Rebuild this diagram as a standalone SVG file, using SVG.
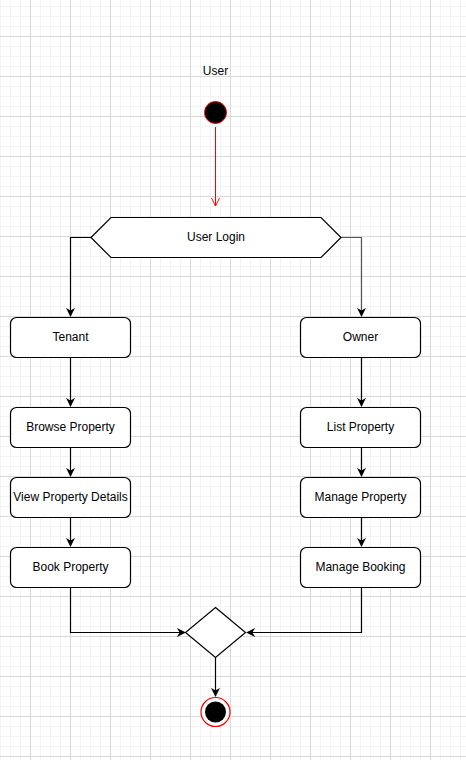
<svg xmlns="http://www.w3.org/2000/svg" width="466" height="760" viewBox="0 0 466 760">
<style>
.box{fill:#fff;stroke:#000;stroke-width:1.2}
.t{font-family:"Liberation Sans",Arial,sans-serif;font-size:12px;fill:#000;text-anchor:middle;dominant-baseline:central}
.c{fill:none;stroke:#000;stroke-width:1.2}
</style>
<defs>
<pattern id="minor" x="0" y="6" width="10" height="10" patternUnits="userSpaceOnUse">
<path d="M0.5 0V10M0 0.5H10" stroke="#f3f3f3" stroke-width="1" fill="none"/>
</pattern>
<pattern id="major" x="30" y="36" width="40" height="40" patternUnits="userSpaceOnUse">
<path d="M0.5 0V40M0 0.5H40" stroke="#d9d9d9" stroke-width="1" fill="none"/>
</pattern>
<marker id="arr" viewBox="0 0 10 10" refX="9" refY="5" markerWidth="9" markerHeight="9" markerUnits="userSpaceOnUse" orient="auto">
<path d="M0 0L10 5L0 10L3 5Z" fill="#000"/>
</marker>
<marker id="open" viewBox="0 0 10 10" refX="10" refY="5" markerWidth="8" markerHeight="10" markerUnits="userSpaceOnUse" orient="auto">
<path d="M0 0L10 5L0 10" fill="none" stroke="#ff0000" stroke-width="1.2"/>
</marker>
</defs>
<rect width="466" height="760" fill="#fff"/>
<rect width="466" height="760" fill="url(#minor)"/>
<rect width="466" height="760" fill="url(#major)"/>

<g id="connectors">
<path d="M215.5 127V206" fill="none" stroke="#ff0000" stroke-width="1" marker-end="url(#open)"/>
<path class="c" d="M91 237.5H70.5V316" marker-end="url(#arr)"/>
<path d="M341 237.5H361.5V316" fill="none" stroke="#555" stroke-width="1.2" marker-end="url(#arr)"/>
<path class="c" d="M70.5 357V406" marker-end="url(#arr)"/>
<path class="c" d="M70.5 447V476" marker-end="url(#arr)"/>
<path class="c" d="M70.5 517V546" marker-end="url(#arr)"/>
<path class="c" d="M361.5 357V406" marker-end="url(#arr)"/>
<path class="c" d="M361.5 447V476" marker-end="url(#arr)"/>
<path class="c" d="M361.5 517V546" marker-end="url(#arr)"/>
<path class="c" d="M70.5 587V632.5H185" marker-end="url(#arr)"/>
<path class="c" d="M361.5 587V632.5H247" marker-end="url(#arr)"/>
<path class="c" d="M215.5 657V696" marker-end="url(#arr)"/>
</g>

<g id="start">
<text class="t" x="215.5" y="71">User</text>
<circle cx="215.5" cy="112.5" r="11" fill="#000" stroke="#ff0000" stroke-width="1"/>
</g>

<g id="login">
<polygon class="box" points="91,237.5 111,217.5 321,217.5 341,237.5 321,257.5 111,257.5"/>
<text class="t" x="216" y="237">User Login</text>
</g>

<g id="tenant"><rect class="box" x="10.5" y="317.5" width="120" height="40" rx="6"/><text class="t" x="70.5" y="337">Tenant</text></g>
<g id="browse"><rect class="box" x="10.5" y="407.5" width="120" height="40" rx="6"/><text class="t" x="70.5" y="427">Browse Property</text></g>
<g id="view"><rect class="box" x="10.5" y="477.5" width="120" height="40" rx="6"/><text class="t" x="70.5" y="497">View Property Details</text></g>
<g id="book"><rect class="box" x="10.5" y="547.5" width="120" height="40" rx="6"/><text class="t" x="70.5" y="567">Book Property</text></g>

<g id="owner"><rect class="box" x="300.5" y="317.5" width="120" height="40" rx="6"/><text class="t" x="360.5" y="337">Owner</text></g>
<g id="list"><rect class="box" x="300.5" y="407.5" width="120" height="40" rx="6"/><text class="t" x="360.5" y="427">List Property</text></g>
<g id="manage"><rect class="box" x="300.5" y="477.5" width="120" height="40" rx="6"/><text class="t" x="360.5" y="497">Manage Property</text></g>
<g id="booking"><rect class="box" x="300.5" y="547.5" width="120" height="40" rx="6"/><text class="t" x="360.5" y="567">Manage Booking</text></g>

<g id="merge"><polygon class="box" points="215.5,607.5 245.5,632.5 215.5,657.5 185.5,632.5"/></g>

<g id="end">
<circle cx="215.5" cy="712" r="14.5" fill="#fff" stroke="#ff0000" stroke-width="1.2"/>
<circle cx="215.5" cy="712" r="10.5" fill="#000"/>
</g>
</svg>
